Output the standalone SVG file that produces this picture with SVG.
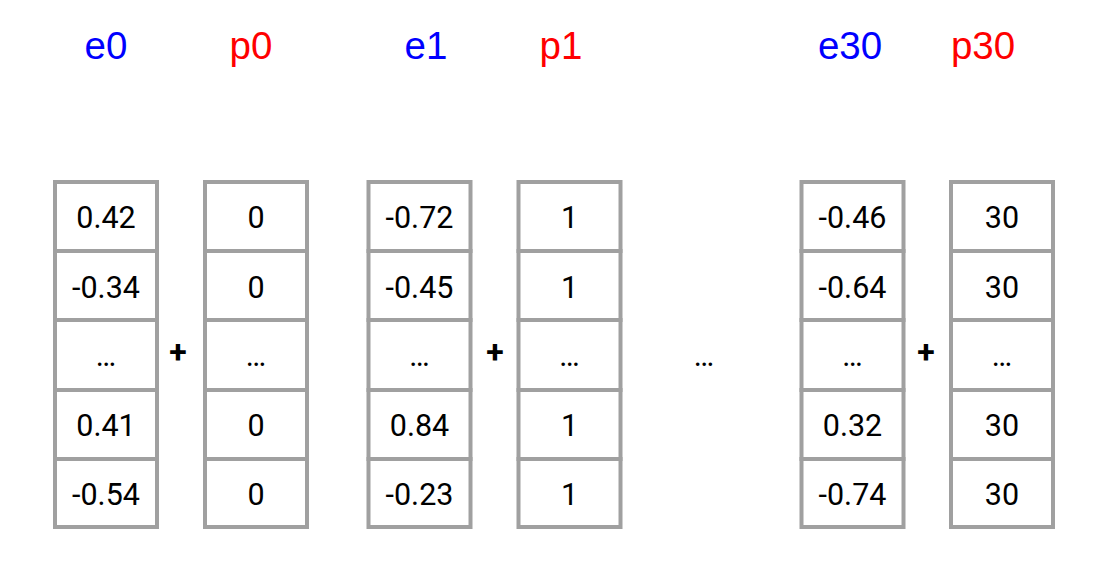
<svg xmlns="http://www.w3.org/2000/svg" width="1100" height="576" viewBox="0 0 1100 576">
<style>
.cell{fill:#ffffff;stroke:#a0a0a0;stroke-width:4}
.v{font-family:Roboto,"Liberation Sans",sans-serif;font-size:30.5px;fill:#000;text-anchor:middle}
.h{font-family:"Liberation Sans",Arial,sans-serif;font-size:38.5px;text-anchor:middle}
.e{fill:#0000ff}
.p{fill:#ff0000}
.plus{font-family:Roboto,"Liberation Sans",sans-serif;font-size:32px;font-weight:bold;fill:#000;text-anchor:middle}
</style>
<rect width="1100" height="576" fill="#ffffff"/>
<defs>
<g id="col">
<rect class="cell" x="0" y="182" width="102" height="69"/>
<rect class="cell" x="0" y="251" width="102" height="69"/>
<rect class="cell" x="0" y="320" width="102" height="70"/>
<rect class="cell" x="0" y="390" width="102" height="69"/>
<rect class="cell" x="0" y="459" width="102" height="68"/>
</g>
</defs>
<g id="headers">
<text class="h e" x="106" y="59">e0</text>
<text class="h p" x="251" y="59">p0</text>
<text class="h e" x="426" y="59">e1</text>
<text class="h p" x="561" y="59">p1</text>
<text class="h e" x="850" y="59">e30</text>
<text class="h p" x="983" y="59">p30</text>
</g>
<g id="e0">
<use href="#col" x="55"/>
<text class="v" x="106" y="228">0.42</text>
<text class="v" x="106" y="298">-0.34</text>
<text class="v" x="106" y="366">…</text>
<text class="v" x="106" y="436">0.41</text>
<text class="v" x="106" y="505">-0.54</text>
</g>
<g id="p0">
<use href="#col" x="205"/>
<text class="v" x="256" y="228">0</text>
<text class="v" x="256" y="298">0</text>
<text class="v" x="256" y="366">…</text>
<text class="v" x="256" y="436">0</text>
<text class="v" x="256" y="505">0</text>
</g>
<g id="e1">
<use href="#col" x="368.5"/>
<text class="v" x="419.5" y="228">-0.72</text>
<text class="v" x="419.5" y="298">-0.45</text>
<text class="v" x="419.5" y="366">…</text>
<text class="v" x="419.5" y="436">0.84</text>
<text class="v" x="419.5" y="505">-0.23</text>
</g>
<g id="p1">
<use href="#col" x="518.5"/>
<text class="v" x="569.5" y="228">1</text>
<text class="v" x="569.5" y="298">1</text>
<text class="v" x="569.5" y="366">…</text>
<text class="v" x="569.5" y="436">1</text>
<text class="v" x="569.5" y="505">1</text>
</g>
<g id="e30">
<use href="#col" x="801.5"/>
<text class="v" x="852.5" y="228">-0.46</text>
<text class="v" x="852.5" y="298">-0.64</text>
<text class="v" x="852.5" y="366">…</text>
<text class="v" x="852.5" y="436">0.32</text>
<text class="v" x="852.5" y="505">-0.74</text>
</g>
<g id="p30">
<use href="#col" x="951"/>
<text class="v" x="1002" y="228">30</text>
<text class="v" x="1002" y="298">30</text>
<text class="v" x="1002" y="366">…</text>
<text class="v" x="1002" y="436">30</text>
<text class="v" x="1002" y="505">30</text>
</g>
<g id="connectors">
<text class="plus" x="178" y="363">+</text>
<text class="plus" x="495" y="363">+</text>
<text class="plus" x="926" y="363">+</text>
<text class="v" x="704" y="366">…</text>
</g>
</svg>
